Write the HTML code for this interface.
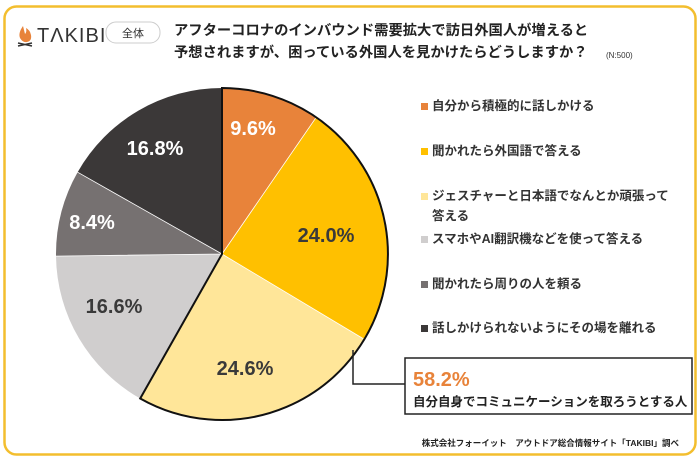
<!DOCTYPE html>
<html><head><meta charset="utf-8"><style>
body{margin:0;width:700px;height:465px;background:#fff;font-family:"Liberation Sans","Noto Sans CJK JP",sans-serif;overflow:hidden}
</style></head><body>
<svg width="700" height="465" xmlns="http://www.w3.org/2000/svg" style="position:absolute;left:0;top:0">
<rect x="4.5" y="6.5" width="691" height="448" rx="12" fill="#fff" stroke="#F3BE2E" stroke-width="2.5"/>
<path d="M23 26 Q18 33 20 38 Q23 43 27 42 Q32 41 31 35 Q30 30 26 28 Q27 32 25 34 Q24 30 23 26Z" fill="#E8833A"/>
<path d="M18 43 L32 46 M18 46 L32 43" stroke="#333" stroke-width="1.5"/>
<text x="37" y="42" font-size="20" fill="#333" font-family="Liberation Sans,sans-serif" letter-spacing="1">TΛKIBI</text>
<rect x="106" y="22" width="54" height="21" rx="10" fill="#fff" stroke="#ccc"/>
<text x="133" y="37" font-size="11" text-anchor="middle" fill="#333">全体</text>
<text x="174" y="35" font-size="14.3" font-weight="bold" fill="#222">アフターコロナのインバウンド需要拡大で訪日外国人が増えると</text>
<text x="174" y="57" font-size="14.3" font-weight="bold" fill="#222">予想されますが、困っている外国人を見かけたらどうしますか？</text>
<text x="606" y="58" font-size="8" fill="#333">(N:500)</text>
<path d="M222 254 L222 88 A166 166 0 0 1 316.2 117.3Z" fill="#E8833A"/>
<path d="M222 254 L316.2 117.3 A166 166 0 0 1 364.4 339.4Z" fill="#FFC000"/>
<path d="M222 254 L364.4 339.4 A166 166 0 0 1 140.2 398.5Z" fill="#FFE699"/>
<path d="M222 254 L140.2 398.5 A166 166 0 0 1 56 256.1Z" fill="#D0CECE"/>
<path d="M222 254 L56 256.1 A166 166 0 0 1 77.6 172.2Z" fill="#767171"/>
<path d="M222 254 L77.6 172.2 A166 166 0 0 1 222 88Z" fill="#3B3838"/>
<g stroke="#fff" stroke-width="0.8" fill="none"><path d="M222 254L316.2 117.3M222 254L364.4 339.4M222 254L56 256.1M222 254L77.6 172.2"/></g>
<path d="M222 254 L222 88 A166 166 0 1 1 140.2 398.5Z" fill="none" stroke="#111" stroke-width="2"/>
<g font-size="20" font-weight="bold" text-anchor="middle" font-family="Liberation Sans,sans-serif">
<text x="253" y="135" fill="#fff">9.6%</text>
<text x="326" y="242" fill="#3a3a3a">24.0%</text>
<text x="245" y="375" fill="#3a3a3a">24.6%</text>
<text x="114" y="313" fill="#3a3a3a">16.6%</text>
<text x="92" y="229" fill="#fff">8.4%</text>
<text x="155" y="155" fill="#fff">16.8%</text>
</g>
<g font-size="12.5" fill="#333" font-weight="bold">
<rect x="421" y="103" width="7" height="7" fill="#E8833A"/><text x="432" y="110">自分から積極的に話しかける</text>
<rect x="421" y="148" width="7" height="7" fill="#FFC000"/><text x="432" y="155">聞かれたら外国語で答える</text>
<rect x="421" y="193" width="7" height="7" fill="#FFE699"/><text x="432" y="200">ジェスチャーと日本語でなんとか頑張って</text>
<text x="432" y="220">答える</text>
<rect x="421" y="236" width="7" height="7" fill="#D0CECE"/><text x="432" y="243">スマホやAI翻訳機などを使って答える</text>
<rect x="421" y="281" width="7" height="7" fill="#767171"/><text x="432" y="288">聞かれたら周りの人を頼る</text>
<rect x="421" y="325" width="7" height="7" fill="#3B3838"/><text x="432" y="332">話しかけられないようにその場を離れる</text>
</g>
<path d="M353 350 L353 384 L405 384" fill="none" stroke="#222" stroke-width="1.5"/>
<rect x="405" y="358" width="287" height="56" fill="#fff" stroke="#222" stroke-width="1.5"/>
<text x="413" y="386" font-size="20" font-weight="bold" fill="#E8833A" font-family="Liberation Sans,sans-serif">58.2%</text>
<text x="413" y="406" font-size="12.5" font-weight="bold" fill="#222">自分自身でコミュニケーションを取ろうとする人</text>
<text x="679" y="446" font-size="8.5" font-weight="bold" fill="#222" text-anchor="end">株式会社フォーイット　アウトドア総合情報サイト「TAKIBI」調べ</text>
</svg>
</body></html>
